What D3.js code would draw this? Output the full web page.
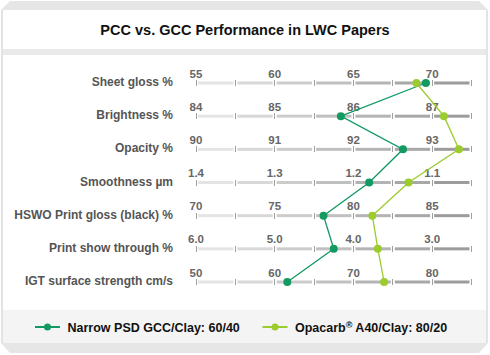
<!DOCTYPE html>
<html><head><meta charset="utf-8">
<script src="https://cdn.jsdelivr.net/npm/d3@7"></script>
<style>html,body{margin:0;padding:0;background:#fff;}svg{display:block;}</style>
</head><body>
<svg id="chart" width="490" height="355"></svg>
<script>
// ---- data ----
const title = "PCC vs. GCC Performance in LWC Papers";
const categories = ["Sheet gloss %","Brightness %","Opacity %","Smoothness µm","HSWO Print gloss (black) %","Print show through %","IGT surface strength cm/s"];
const tickLabels = [
  ["55","60","65","70"],
  ["84","85","86","87"],
  ["90","91","92","93"],
  ["1.4","1.3","1.2","1.1"],
  ["70","75","80","85"],
  ["6.0","5.0","4.0","3.0"],
  ["50","60","70","80"]
];
const seriesNames = ["Narrow PSD GCC/Clay: 60/40","Opacarb® A40/Clay: 80/20"];
const gccValues = [69.6, 85.84, 92.63, 1.18, 78.1, 4.25, 61.6];
const opacarbValues = [69.0, 87.15, 93.34, 1.13, 81.2, 3.69, 73.9];
const seriesColors = ["#129a62","#9ccb2d"];

// ---- layout ----
const svg = d3.select("#chart");
const x0 = 196, x1 = 471.5;
const FONT = "'Liberation Sans', Arial, Helvetica, sans-serif";

// frame
svg.append("path").attr("d","M10,1 L479,1 L488,10 L1,10 Z").attr("fill","#e6e6e6");
svg.append("rect").attr("x",1).attr("y",10).attr("width",2).attr("height",333).attr("fill","#e3e3e3");
svg.append("rect").attr("x",486).attr("y",10).attr("width",2).attr("height",333).attr("fill","#e3e3e3");
svg.append("rect").attr("x",3).attr("y",49).attr("width",483).attr("height",6).attr("fill","#e9e9e9");
svg.append("rect").attr("x",3).attr("y",310).attr("width",483).attr("height",33).attr("fill","#f4f4f4");
svg.append("path").attr("d","M1,343 L488,343 L479,353 L10,353 Z").attr("fill","#e6e6e6");

svg.append("text").attr("x",245).attr("y",34.5).attr("text-anchor","middle")
  .attr("font-family",FONT).attr("font-weight","bold")
  .attr("font-size",14.5).attr("fill","#111").text(title);

const yScale = d3.scalePoint().domain(categories).range([83, 282]);

// per-row scales: major ticks at labels, domain spans 3.5 major steps
const rowScales = tickLabels.map(t => {
  const a = +t[0], b = +t[1], step = b - a;
  return d3.scaleLinear().domain([a, a + 3.5*step]).range([x0, x1]);
});

const segColor = d3.scaleLinear().domain([0,6]).range(["#e4e4e4","#9c9c9c"]);

categories.forEach((cat, i) => {
  const y = yScale(cat);
  const sc = rowScales[i];
  const a = +tickLabels[i][0], step = +tickLabels[i][1] - a;
  const g = svg.append("g");
  const allTicks = d3.range(8).map(k => a + k*step/2);
  for (let k = 0; k < 7; k++) {
    const xa = sc(allTicks[k]), xb = sc(allTicks[k+1]);
    g.append("rect").attr("x", xa+2).attr("y", y-1.5).attr("width", xb-xa-4).attr("height", 3)
      .attr("fill", segColor(k));
  }
  allTicks.forEach((v,k) => {
    g.append("line").attr("x1", sc(v)).attr("x2", sc(v)).attr("y1", y-3).attr("y2", y+3)
      .attr("stroke", "#a0a0a0").attr("stroke-width", 1).attr("shape-rendering","crispEdges");
  });
  tickLabels[i].forEach((lab, k) => {
    g.append("text").attr("x", sc(+lab)).attr("y", y-5.5).attr("text-anchor","middle")
      .attr("font-family",FONT).attr("font-weight","bold")
      .attr("font-size",11.5).attr("fill","#666").text(lab);
  });
  g.append("text").attr("x", 173).attr("y", y+3).attr("text-anchor","end")
    .attr("font-family",FONT).attr("font-weight","bold")
    .attr("font-size",12).attr("fill","#555").text(cat);
});

// series
[gccValues, opacarbValues].forEach((vals, s) => {
  const pts = vals.map((v,i) => [rowScales[i](v), yScale(categories[i])]);
  svg.append("path").attr("d", d3.line()(pts)).attr("fill","none")
    .attr("stroke", seriesColors[s]).attr("stroke-width", 1.3);
  svg.selectAll(null).data(pts).enter().append("circle")
    .attr("cx", d => d[0]).attr("cy", d => d[1]).attr("r", 4).attr("fill", seriesColors[s]);
});

// legend
const legendX = [35, 262.5];
seriesNames.forEach((name, s) => {
  const lx = legendX[s], ly = 327;
  svg.append("line").attr("x1", lx).attr("x2", lx+25).attr("y1", ly).attr("y2", ly)
    .attr("stroke", seriesColors[s]).attr("stroke-width", 2);
  svg.append("circle").attr("cx", lx+12.5).attr("cy", ly).attr("r", 3.5).attr("fill", seriesColors[s]);
  const t = svg.append("text").attr("x", lx+32.5).attr("y", ly+4.5)
    .attr("font-family",FONT).attr("font-weight","bold")
    .attr("font-size",12.5).attr("fill","#111");
  const parts = name.split("®");
  t.append("tspan").text(parts[0]);
  if (parts.length > 1) {
    t.append("tspan").attr("font-size",9).attr("dy",-4).text("®");
    t.append("tspan").attr("dy",4).text(parts[1]);
  }
});
</script>
</body></html>
